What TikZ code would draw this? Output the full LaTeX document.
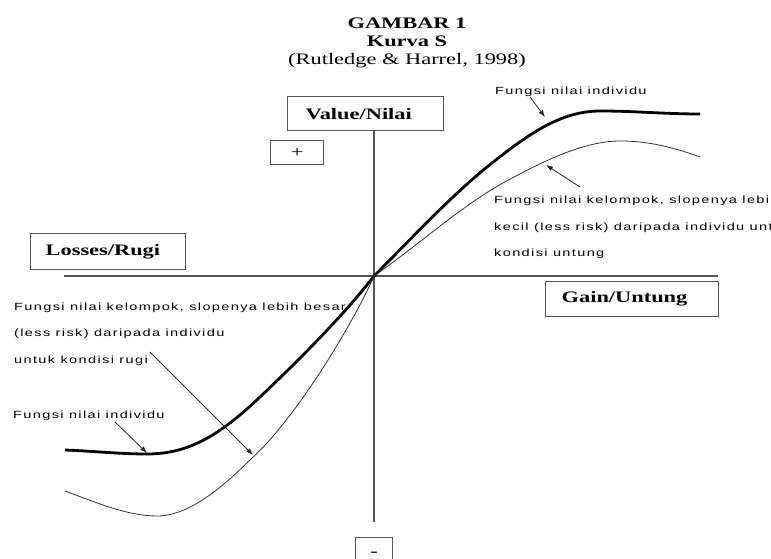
\documentclass[tikz,border=0pt]{standalone}
\usepackage{fontspec}
\usetikzlibrary{arrows.meta}
\newfontfamily\serifw{Liberation Serif}[FakeStretch=1.4]
\newfontfamily\sansw{Liberation Sans}[FakeStretch=1.4,LetterSpace=13]
\definecolor{axisgray}{HTML}{555555}
\definecolor{boxgray}{HTML}{555555}
\tikzset{
  lbl/.style={font=\sansw\fontsize{10.4}{26.5}\selectfont, inner sep=0pt, align=left, anchor=base west},
  boxed/.style={draw=boxgray, line width=1.3pt, font=\serifw\bfseries\fontsize{16}{18}\selectfont, inner ysep=0pt, anchor=north west, align=left},
  signbox/.style={draw=boxgray, line width=1.3pt, font=\serifw\fontsize{16}{18}\selectfont, inner sep=0pt, anchor=north west},
  axis/.style={draw=axisgray, line width=1.3pt},
  pointer/.style={draw=black!85, line width=0.8pt, -{Latex[length=7pt,width=5pt]}},
  indiv/.style={draw=black, line width=2.8pt},
  group/.style={draw=black!80, line width=0.8pt}
}
\begin{document}
\begin{tikzpicture}[x=1pt,y=-1pt]
\useasboundingbox (0,0) rectangle (771,559);
\clip (0,0) rectangle (771,559);
% title
\node[font=\serifw\fontsize{16}{18}\selectfont, align=center, inner sep=0pt] (title) at (407,43)
  {\bfseries GAMBAR 1\\ \bfseries Kurva S\\ (Rutledge \& Harrel, 1998)};
% boxes
\node[boxed, minimum width=156pt, minimum height=34pt, inner xsep=18pt, text width=120pt] (value) at (287,96) {Value/Nilai};
\node[boxed, minimum width=155pt, minimum height=36pt, inner xsep=15pt, text width=125pt] (loss) at (30,233) {Losses/Rugi};
\node[boxed, minimum width=173pt, minimum height=35pt, inner xsep=16pt, text width=141pt] (gain) at (545,281) {Gain/Untung};
\node[signbox, minimum width=53pt, minimum height=24pt] (plus) at (270,140) {+};
\node[signbox, minimum width=37pt, minimum height=33pt] (minus) at (355,537) {-};
% axes
\coordinate (O) at (374,276);
\coordinate (xl) at (64,276);
\coordinate (xr) at (718,276);
\coordinate (yb) at (374,522);
\draw[axis] (xl) -- (xr);
\draw[axis] (value.south -| O) -- (yb);
% labels (multi-line nodes: base = last line)
\node[lbl] (t1) at (495,95) {Fungsi nilai individu};
\node[lbl] (t2) at (494,256.5) {Fungsi nilai kelompok, slopenya lebih\\kecil (less risk) daripada individu untuk\\kondisi untung};
\node[lbl] (t3) at (14,363) {Fungsi nilai kelompok, slopenya lebih besar\\(less risk) daripada individu\\untuk kondisi rugi};
\node[lbl] (t4) at (13,418) {Fungsi nilai individu};
% curves: individual (thick)
\draw[indiv] (65,450) .. controls (92,451) and (120,454) .. (147,454)
  .. controls (189,454) and (220,435) .. (260,397)
  .. controls (298,361) and (344,315) .. (O);
\draw[indiv] (O) .. controls (412,238) and (450,197) .. (487,167)
  .. controls (527,135) and (560,111) .. (600,111)
  .. controls (635,111) and (665,114) .. (700,114);
% curves: group (thin), kinked at origin
\draw[group] (65,491) .. controls (95,502) and (127,516) .. (157,516)
  .. controls (190,516) and (225,485) .. (253,457)
  .. controls (293,421) and (350,330) .. (O);
\draw[group] (O) .. controls (417,246) and (460,207) .. (503,183)
  .. controls (545,160) and (585,141) .. (620,141)
  .. controls (650,141) and (675,148) .. (700,157);
% pointers
\coordinate (a1s) at (530,97);  \coordinate (a1e) at (545,117);
\coordinate (a2s) at (580,187); \coordinate (a2e) at (546,165);
\coordinate (a3s) at (150,352); \coordinate (a3e) at (253,455);
\coordinate (a4s) at (115,422); \coordinate (a4e) at (147,453);
\draw[pointer] (a1s) -- (a1e);
\draw[pointer] (a2s) -- (a2e);
\draw[pointer] (a3s) -- (a3e);
\draw[pointer] (a4s) -- (a4e);
\end{tikzpicture}
\end{document}
